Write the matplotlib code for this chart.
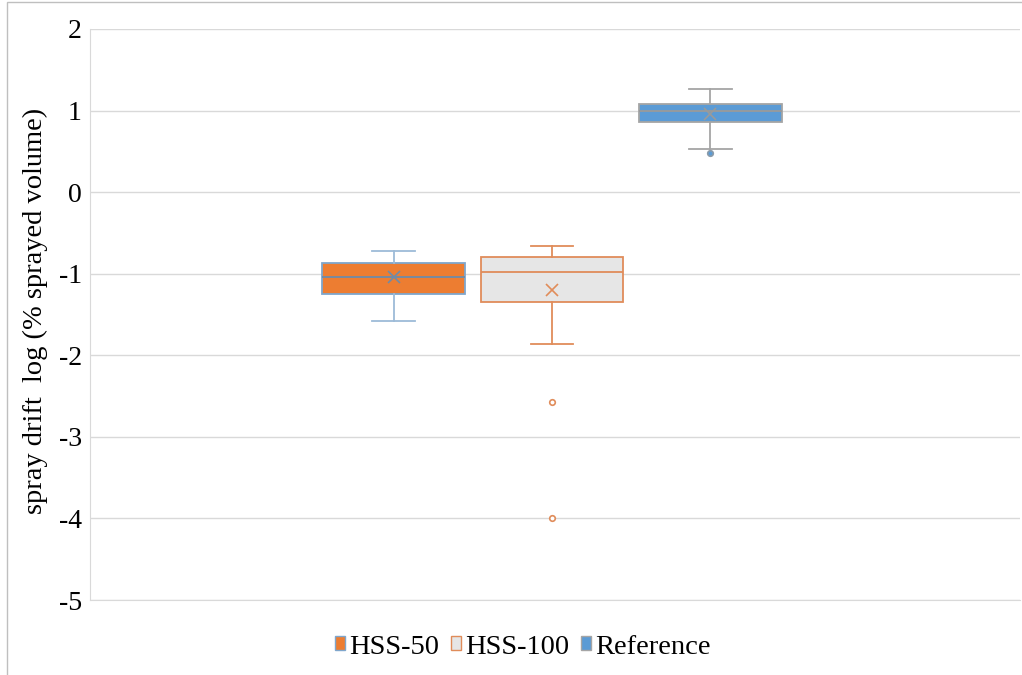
import matplotlib
matplotlib.use('Agg')
import matplotlib.pyplot as plt
from matplotlib.patches import Patch, Rectangle

plt.rcParams['font.family'] = ['Liberation Serif', 'DejaVu Serif']
plt.rcParams['axes.unicode_minus'] = False

# Series (log % sprayed volume)
series = ['HSS-50', 'HSS-100', 'Reference']
whis_hi = [-0.72, -0.66, 1.26]
q3 = [-0.87, -0.80, 1.08]
median = [-1.04, -0.98, 1.00]
mean = [-1.04, -1.20, 0.96]
q1 = [-1.25, -1.35, 0.86]
whis_lo = [-1.58, -1.86, 0.53]
outliers = [[], [-2.57, -4.00], [0.48]]

fills = ['#ED7D31', '#E6E6E6', '#5B9BD5']
edges = ['#7FA6CC', '#E08C5A', '#A5A5A5']
whisker_cols = ['#9DBBD8', '#E08C5A', '#A5A5A5']
mean_cols = ['#6E8BA8', '#E08C5A', '#9A9A9A']

fig = plt.figure(figsize=(10.22, 6.75), dpi=100)
ax = fig.add_axes([90 / 1022, 1 - 600 / 675, 930 / 1022, 571 / 675])

positions = [-1, 0, 1]
for i in range(len(series)):
    stats = [{'med': median[i], 'q1': q1[i], 'q3': q3[i],
              'whislo': whis_lo[i], 'whishi': whis_hi[i],
              'mean': mean[i], 'fliers': outliers[i]}]
    ax.bxp(stats, positions=[positions[i]], widths=0.9, patch_artist=True,
           showmeans=True, showcaps=True, capwidths=0.27,
           boxprops=dict(facecolor=fills[i], edgecolor=edges[i], linewidth=1.3),
           medianprops=dict(color=mean_cols[i] if i != 1 else edges[i], linewidth=1.3),
           whiskerprops=dict(color=whisker_cols[i], linewidth=1.3),
           capprops=dict(color=whisker_cols[i], linewidth=1.3),
           meanprops=dict(marker='x', markeredgecolor=mean_cols[i], markersize=8,
                          markeredgewidth=1.2),
           flierprops=dict(marker='o', markersize=4,
                           markerfacecolor='white' if i == 1 else fills[i],
                           markeredgecolor=edges[i] if i == 1 else '#8A9BAA',
                           markeredgewidth=1.2))

ax.set_xlim(-2.915, 2.953)
ax.set_ylim(-5, 2)
ax.set_yticks(range(-5, 3))
ax.set_xticks([])
ax.tick_params(axis='y', length=0, labelsize=20, pad=6)
ax.grid(axis='y', color='#D9D9D9', linewidth=1)
ax.set_axisbelow(True)
for s in ['top', 'right']:
    ax.spines[s].set_visible(False)
ax.spines['left'].set_color('#D9D9D9')
ax.spines['bottom'].set_color('#D9D9D9')
ax.set_ylabel('spray drift  log (% sprayed volume)', fontsize=20.5)
ax.yaxis.set_label_coords((48 - 90) / 930, (600 - 311) / 571)

handles = [Patch(facecolor=fills[i], edgecolor=edges[i], linewidth=1) for i in range(3)]
fig.legend(handles, series, loc='center', bbox_to_anchor=(523 / 1022, 1 - 647 / 675),
           ncol=3, frameon=False, fontsize=20.5, handlelength=0.36, handleheight=0.36,
           handletextpad=0.15, columnspacing=0.4)

# outer chart border
fig.patches.append(Rectangle((7 / 1022, -0.1), 1.2, 1 - 2 / 675 + 0.1,
                             transform=fig.transFigure, fill=False,
                             edgecolor='#BFBFBF', linewidth=1))

fig.savefig('out.png', dpi=100)
